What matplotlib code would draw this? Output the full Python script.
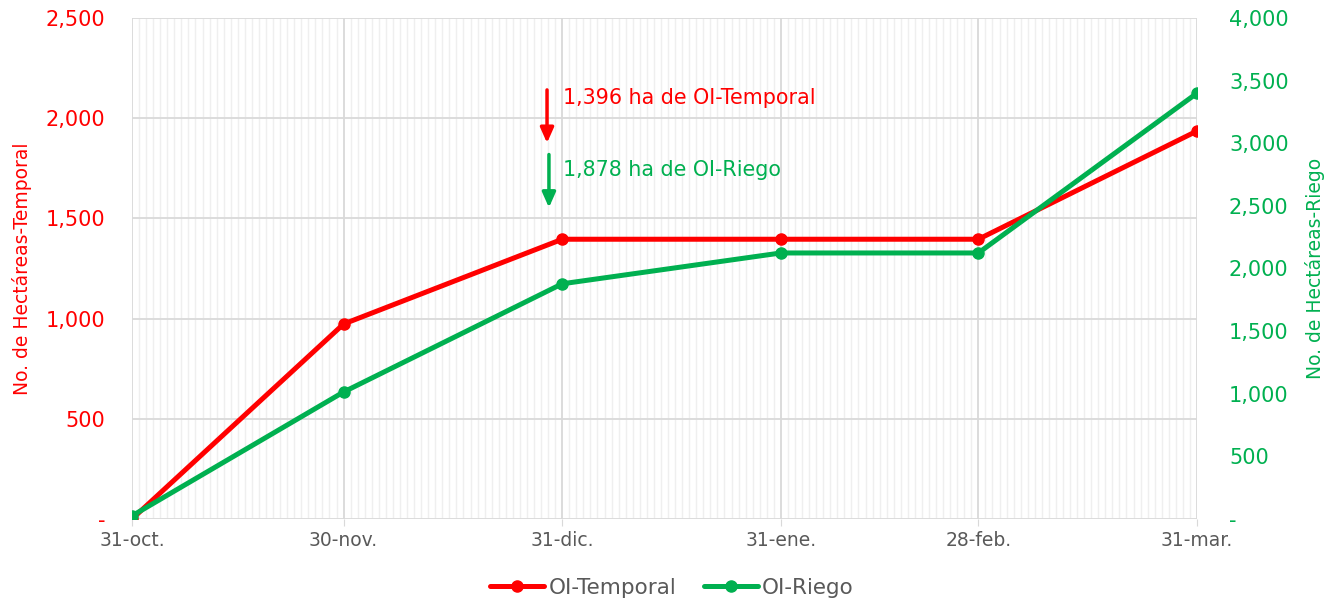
import matplotlib
matplotlib.use("Agg")
import matplotlib.pyplot as plt
import matplotlib.dates as mdates
from matplotlib.ticker import FuncFormatter, MultipleLocator, FixedLocator
import datetime as dt

plt.rcParams['font.family'] = ['DejaVu Sans']

dates = ["2020-10-31", "2020-11-30", "2020-12-31", "2021-01-31", "2021-02-28", "2021-03-31"]
tick_labels = ["31-oct.", "30-nov.", "31-dic.", "31-ene.", "28-feb.", "31-mar."]
temporal = [0, 973, 1396, 1396, 1396, 1936]
riego = [25, 1014, 1878, 2124, 2124, 3400]
label_temporal = "OI-Temporal"
label_riego = "OI-Riego"
ann_temporal = "1,396 ha de OI-Temporal"
ann_riego = "1,878 ha de OI-Riego"

RED = "#FF0000"
GREEN = "#00B050"
GRAY = "#595959"
GRID = "#D9D9D9"
MINOR = "#EFEFEF"

x = [dt.datetime.strptime(d, "%Y-%m-%d") for d in dates]

fig = plt.figure(figsize=(13.36, 6.01), dpi=100)
ax = fig.add_axes([132/1336, 1-519/601, (1197-132)/1336, (519-18)/601])
ax2 = ax.twinx()

ax.set_xlim(x[0], x[-1])
ax.set_ylim(0, 2500)
ax2.set_ylim(0, 4000)
ax.xaxis.set_major_locator(FixedLocator(mdates.date2num(x)))
ax.xaxis.set_minor_locator(mdates.DayLocator())
ax.set_xticklabels(tick_labels)
ax.yaxis.set_major_locator(MultipleLocator(500))
ax2.yaxis.set_major_locator(MultipleLocator(500))

ax.grid(True, which='minor', axis='x', color=MINOR, lw=1.0)
ax.grid(True, which='major', axis='x', color=GRID, lw=1.3)
ax.grid(True, which='major', axis='y', color=GRID, lw=1.3)
ax.set_axisbelow(True)

fmt = FuncFormatter(lambda v, p: "-" if v == 0 else f"{int(v):,}")
ax.yaxis.set_major_formatter(fmt)
ax2.yaxis.set_major_formatter(fmt)

for a in (ax, ax2):
    for s in a.spines.values():
        s.set_visible(False)

ax.tick_params(axis='y', which='both', length=0, colors=RED, labelsize=15, pad=19)
ax2.tick_params(axis='y', which='both', length=0, colors=GREEN, labelsize=15, pad=23)
ax.tick_params(axis='x', which='minor', length=0)
ax.tick_params(axis='x', which='major', length=5, color=GRID, labelcolor=GRAY, labelsize=13.5, pad=4)

ax.set_ylabel("No. de Hectáreas-Temporal", color=RED, fontsize=13.5, labelpad=10)
ax2.set_ylabel("No. de Hectáreas-Riego", color=GREEN, fontsize=13.5, labelpad=12)

l1, = ax.plot(x, temporal, color=RED, lw=3.6, marker='o', ms=8, label=label_temporal, zorder=3, solid_capstyle='round')
l2, = ax2.plot(x, riego, color=GREEN, lw=3.6, marker='o', ms=8, label=label_riego, zorder=3, solid_capstyle='round')

ax.annotate("", xy=(0.3897, 0.745), xytext=(0.3897, 0.862), xycoords='axes fraction',
            arrowprops=dict(arrowstyle='-|>,head_width=0.4,head_length=0.9', color=RED, lw=2.5))
ax.annotate("", xy=(0.3915, 0.616), xytext=(0.3915, 0.733), xycoords='axes fraction',
            arrowprops=dict(arrowstyle='-|>,head_width=0.4,head_length=0.9', color=GREEN, lw=2.5))
ax.text(0.4047, 0.84, ann_temporal, transform=ax.transAxes, color=RED, fontsize=14.9, va='center', ha='left')
ax.text(0.4047, 0.697, ann_riego, transform=ax.transAxes, color=GREEN, fontsize=14.9, va='center', ha='left')

leg = fig.legend(handles=[l1, l2], loc='center', bbox_to_anchor=(672/1336, 1-588/601), ncol=2,
                 frameon=False, fontsize=15.5, handlelength=2.5, handletextpad=0.2, columnspacing=1.3)
for t in leg.get_texts():
    t.set_color(GRAY)

fig.savefig("out.png", dpi=100)
